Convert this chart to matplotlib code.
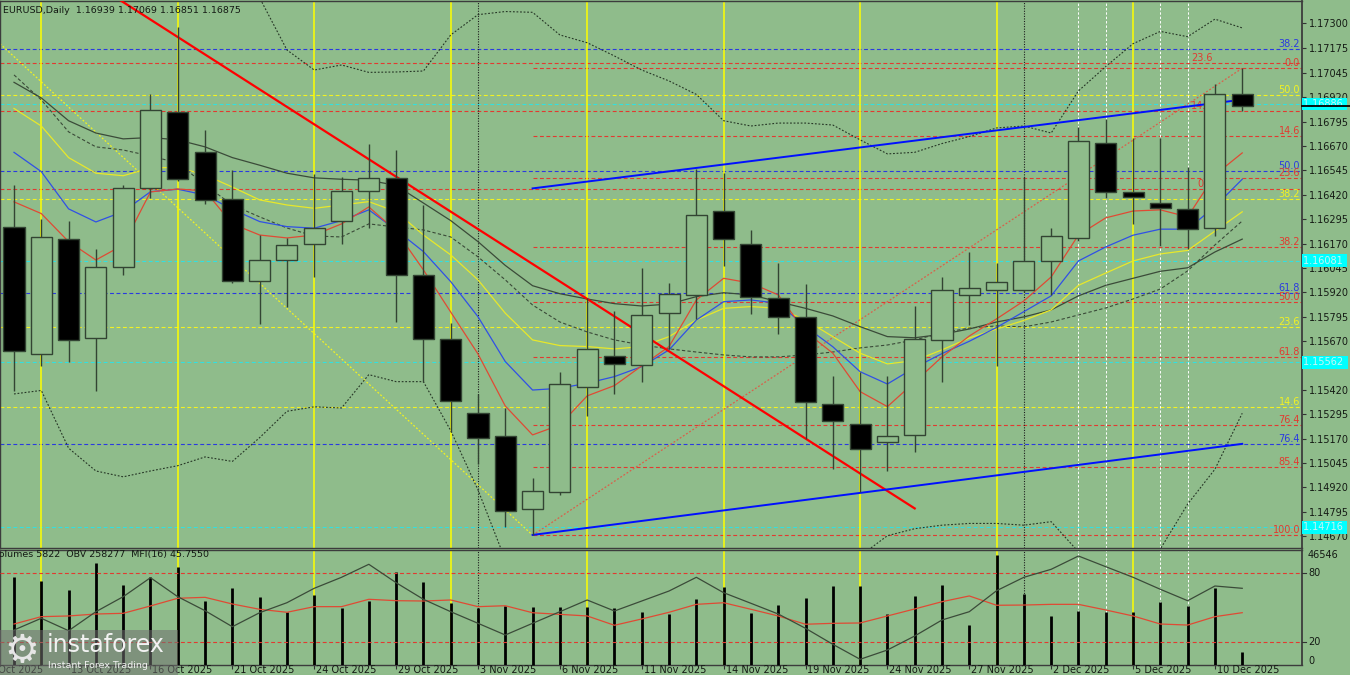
import numpy as np
import pandas as pd
import matplotlib
matplotlib.use('Agg')
import matplotlib.pyplot as plt
from matplotlib.patches import Rectangle
import matplotlib.transforms as mtransforms

plt.rcParams['font.family'] = ['DejaVu Sans']

# ---------------- data ----------------
dates = pd.to_datetime([
    '2025-10-09', '2025-10-10', '2025-10-13', '2025-10-14', '2025-10-15', '2025-10-16', '2025-10-17',
    '2025-10-20', '2025-10-21', '2025-10-22', '2025-10-23', '2025-10-24',
    '2025-10-27', '2025-10-28', '2025-10-29', '2025-10-30', '2025-10-31',
    '2025-11-03', '2025-11-04', '2025-11-05', '2025-11-06', '2025-11-07',
    '2025-11-10', '2025-11-11', '2025-11-12', '2025-11-13', '2025-11-14',
    '2025-11-17', '2025-11-18', '2025-11-19', '2025-11-20', '2025-11-21',
    '2025-11-24', '2025-11-25', '2025-11-26', '2025-11-27', '2025-11-28',
    '2025-12-01', '2025-12-02', '2025-12-03', '2025-12-04', '2025-12-05',
    '2025-12-08', '2025-12-09', '2025-12-10', '2025-12-11'])

opens = [1.16256, 1.15606, 1.16191, 1.15687, 1.16051, 1.16455, 1.16845, 1.16639, 1.16400, 1.15977,
         1.16087, 1.16166, 1.16285, 1.16441, 1.16507, 1.16010, 1.15682, 1.15301, 1.15184, 1.14807,
         1.14896, 1.15435, 1.15592, 1.15547, 1.15816, 1.15908, 1.16335, 1.16166, 1.15893, 1.15791,
         1.15349, 1.15247, 1.15152, 1.15189, 1.15678, 1.15906, 1.15934, 1.15934, 1.16082, 1.16198,
         1.16687, 1.16432, 1.16378, 1.16348, 1.16250, 1.16939]
highs = [1.16473, 1.16297, 1.16288, 1.16141, 1.16468, 1.16935, 1.17280, 1.16750, 1.16545, 1.16216,
         1.16198, 1.16525, 1.16513, 1.16683, 1.16651, 1.16367, 1.15764, 1.15400, 1.15328, 1.14969,
         1.15511, 1.15893, 1.15822, 1.16046, 1.15969, 1.16554, 1.16531, 1.16238, 1.16069, 1.15965,
         1.15489, 1.15513, 1.15493, 1.15848, 1.15997, 1.16127, 1.16069, 1.16513, 1.16249, 1.16769,
         1.16809, 1.16710, 1.16710, 1.16561, 1.16989, 1.17069]
lows = [1.15412, 1.15543, 1.15565, 1.15414, 1.16010, 1.16405, 1.16489, 1.16374, 1.15969, 1.15757,
        1.15845, 1.16001, 1.16168, 1.16249, 1.15768, 1.15462, 1.15202, 1.15041, 1.14717, 1.14675,
        1.14879, 1.15286, 1.15400, 1.15462, 1.15628, 1.15782, 1.16055, 1.15809, 1.15705, 1.15166,
        1.15013, 1.14896, 1.15005, 1.15103, 1.15459, 1.15753, 1.15543, 1.15922, 1.15906, 1.16184,
        1.16402, 1.16270, 1.16157, 1.16141, 1.16208, 1.16851]
closes = [1.15621, 1.16204, 1.15678, 1.16048, 1.16455, 1.16857, 1.16499, 1.16396, 1.15977, 1.16087,
          1.16165, 1.16251, 1.16441, 1.16506, 1.16010, 1.15682, 1.15364, 1.15175, 1.14798, 1.14901,
          1.15450, 1.15628, 1.15552, 1.15804, 1.15911, 1.16315, 1.16191, 1.15897, 1.15791, 1.15358,
          1.15261, 1.15117, 1.15184, 1.15682, 1.15933, 1.15942, 1.15974, 1.16082, 1.16208, 1.16696,
          1.16432, 1.16410, 1.16353, 1.16245, 1.16939, 1.16875]

ma_red = [1.16384, 1.16324, 1.16180, 1.16086, 1.16163, 1.16435, 1.16450, 1.16440, 1.16271, 1.16214,
          1.16199, 1.16214, 1.16271, 1.16358, 1.16235, 1.16035, 1.15819, 1.15604, 1.15337, 1.15189,
          1.15240, 1.15389, 1.15442, 1.15543, 1.15642, 1.15881, 1.15992, 1.15967, 1.15907, 1.15718,
          1.15608, 1.15411, 1.15334, 1.15460, 1.15589, 1.15696, 1.15784, 1.15876, 1.15999, 1.16214,
          1.16302, 1.16337, 1.16343, 1.16307, 1.16522, 1.16635]
ma_blue = [1.16638, 1.16539, 1.16348, 1.16281, 1.16334, 1.16436, 1.16449, 1.16419, 1.16346, 1.16283,
           1.16257, 1.16249, 1.16288, 1.16343, 1.16240, 1.16129, 1.15975, 1.15795, 1.15565, 1.15419,
           1.15428, 1.15454, 1.15488, 1.15539, 1.15625, 1.15778, 1.15872, 1.15881, 1.15864, 1.15744,
           1.15641, 1.15513, 1.15450, 1.15534, 1.15606, 1.15669, 1.15740, 1.15821, 1.15902, 1.16081,
           1.16153, 1.16213, 1.16244, 1.16244, 1.16360, 1.16500]
ma_yellow = [1.16863, 1.16773, 1.16611, 1.16531, 1.16518, 1.16558, 1.16561, 1.16522, 1.16460, 1.16394,
             1.16368, 1.16351, 1.16368, 1.16385, 1.16334, 1.16214, 1.16112, 1.15984, 1.15813, 1.15676,
             1.15647, 1.15642, 1.15630, 1.15642, 1.15693, 1.15778, 1.15838, 1.15847, 1.15838, 1.15778,
             1.15693, 1.15608, 1.15553, 1.15570, 1.15625, 1.15686, 1.15732, 1.15776, 1.15830, 1.15956,
             1.16019, 1.16081, 1.16117, 1.16135, 1.16234, 1.16333]
ma_gray = [1.16997, 1.16917, 1.16800, 1.16737, 1.16707, 1.16714, 1.16702, 1.16666, 1.16611, 1.16572,
           1.16531, 1.16507, 1.16500, 1.16495, 1.16468, 1.16378, 1.16288, 1.16180, 1.16058, 1.15954,
           1.15913, 1.15886, 1.15862, 1.15850, 1.15860, 1.15898, 1.15918, 1.15907, 1.15872, 1.15838,
           1.15799, 1.15744, 1.15693, 1.15687, 1.15705, 1.15732, 1.15768, 1.15794, 1.15830, 1.15902,
           1.15956, 1.15992, 1.16028, 1.16046, 1.16127, 1.16193]
bb_mid = [1.17035, 1.16907, 1.16743, 1.16666, 1.16650, 1.16619, 1.16584, 1.16471, 1.16368, 1.16307,
          1.16250, 1.16209, 1.16204, 1.16271, 1.16255, 1.16240, 1.16204, 1.16102, 1.15984, 1.15855,
          1.15768, 1.15717, 1.15676, 1.15650, 1.15630, 1.15614, 1.15599, 1.15589, 1.15589, 1.15599,
          1.15614, 1.15635, 1.15650, 1.15676, 1.15712, 1.15737, 1.15748, 1.15743, 1.15768, 1.15804,
          1.15840, 1.15886, 1.15937, 1.16030, 1.16163, 1.16286]
bb_up = [1.18671, 1.18394, 1.18363, 1.18327, 1.18327, 1.18235, 1.18137, 1.17866, 1.17684, 1.17430,
         1.17163, 1.17060, 1.17086, 1.17048, 1.17050, 1.17055, 1.17240, 1.17344, 1.17360, 1.17356,
         1.17240, 1.17200, 1.17132, 1.17060, 1.17004, 1.16935, 1.16800, 1.16773, 1.16788, 1.16788,
         1.16778, 1.16702, 1.16630, 1.16638, 1.16683, 1.16719, 1.16763, 1.16773, 1.16737, 1.16953,
         1.17078, 1.17195, 1.17258, 1.17231, 1.17321, 1.17276]
bb_lo = [1.15399, 1.15417, 1.15121, 1.15004, 1.14974, 1.15004, 1.15031, 1.15076, 1.15053, 1.15175,
         1.15310, 1.15333, 1.15327, 1.15498, 1.15462, 1.15462, 1.15211, 1.14907, 1.14548, 1.14353,
         1.14296, 1.14235, 1.14219, 1.14240, 1.14255, 1.14291, 1.14399, 1.14404, 1.14389, 1.14409,
         1.14450, 1.14568, 1.14672, 1.14708, 1.14726, 1.14735, 1.14735, 1.14726, 1.14744, 1.14589,
         1.14548, 1.14548, 1.14604, 1.14834, 1.15013, 1.15300]

volumes = [37136, 35701, 31777, 43297, 33887, 37389, 41609, 27135, 32747, 28949,
           22366, 29667, 24307, 27135, 39246, 35279, 26417, 24054, 25025, 24476,
           24729, 24729, 24307, 22493, 21775, 28105, 32916, 22071, 25573, 28527,
           33465, 33465, 21775, 29371, 34013, 17133, 46546, 30089, 20805, 22915,
           22619, 22493, 26713, 24898, 32747, 5822]
obv = [165286, 191377, 163725, 206095, 239545, 281915, 239545, 208325, 172645, 203865,
       226165, 258277, 282807, 311797, 270765, 233747, 206095, 180227, 154136, 180227,
       206095, 232186, 207656, 229956, 252256, 282807, 248465, 224827, 200966, 169077,
       133397, 99947, 120686, 151906, 187586, 206095, 252925, 282807, 300647, 330306,
       306445, 282807, 256047, 230625, 263406, 258277]
mfi = [35.9, 42.3, 42.9, 44.6, 45.2, 51.6, 58.3, 59.1, 53.3, 48.7,
       46.1, 51.0, 51.0, 57.4, 56.2, 55.9, 56.8, 51.0, 51.8, 45.7,
       44.3, 42.9, 34.8, 40.3, 46.1, 53.0, 54.4, 48.7, 42.9, 35.7,
       36.5, 36.8, 42.9, 49.0, 55.3, 60.3, 52.2, 52.4, 53.0, 53.0,
       48.1, 42.9, 35.9, 35.0, 42.3, 45.755]

price_ticks = [1.17300, 1.17175, 1.17045, 1.16920, 1.16795, 1.16670, 1.16545, 1.16420, 1.16295,
               1.16170, 1.16045, 1.15920, 1.15795, 1.15670, 1.15545, 1.15420, 1.15295, 1.15170,
               1.15045, 1.14920, 1.14795, 1.14670]
cyan_levels = [1.16886, 1.16081, 1.15562, 1.14716]

swing_top = 1.19191        # high above the visible window
blue_fib_low = 1.13891     # low below the visible window
red2_base = 1.16450
yellow_fib_levels = [14.6, 23.6, 38.2, 50.0]
blue_fib_levels = [38.2, 50.0, 61.8, 76.4]
red2_fib_levels = [0.0, 14.6, 23.6]
red_fib_levels = [0.0, 14.6, 23.6, 38.2, 50.0, 61.8, 76.4, 85.4, 100.0]

# trend lines: (bar position, price)
red_trend = [(3.88, 1.17419), (33.0, 1.14812)]
blue_upper = [(19.0, 1.16453), (45.0, 1.16908)]
blue_lower = [(19.0, 1.14676), (45.0, 1.15143)]
yellow_diag = [(-0.513, 1.17195), (19.0, 1.14675)]

friday_marks = ['2025-10-10', '2025-10-17', '2025-10-24', '2025-10-31', '2025-11-07',
                '2025-11-14', '2025-11-21', '2025-11-28', '2025-12-05']
month_marks = ['2025-11-03', '2025-12-01']
white_marks = ['2025-12-03', '2025-12-04', '2025-12-08', '2025-12-09']

header = 'EURUSD,Daily  1.16939 1.17069 1.16851 1.16875'
vol_header = 'Volumes 5822  OBV 258277  MFI(16) 45.7550'

# ---------------- figure ----------------
W, H = 1350, 675
BG = '#8fbc8b'
EDGE = '#334433'
TXT = '#141a14'
RED = '#e23a30'
BLUE = '#2a3ae0'
YEL = '#f2f222'
CYAN = '#33e0e0'

fig = plt.figure(figsize=(W / 100, H / 100), dpi=100)
fig.patch.set_facecolor(BG)

def fy(py):
    return 1 - py / H

AX_R = 1302
ax = fig.add_axes([0, fy(548), AX_R / W, (548 - 1) / H])
axv = fig.add_axes([0, fy(665.3), AX_R / W, (665.3 - 550) / H])
for a in (ax, axv):
    a.set_facecolor(BG)
    for s in a.spines.values():
        s.set_color('#3c3c3c')
        s.set_linewidth(1.0)
    a.spines['right'].set_linewidth(1.3)

n = len(closes)
xs = np.arange(n)
xl = (-0.513, 47.19)
ax.set_xlim(*xl)
axv.set_xlim(*xl)
ax.set_ylim(1.14609, 1.17414)

didx = {d.strftime('%Y-%m-%d'): i for i, d in enumerate(dates)}

# vertical separators
for d in friday_marks:
    for a in (ax, axv):
        a.axvline(didx[d], color='#ffff00', lw=1.1, zorder=1.3)
for d in month_marks:
    for a in (ax, axv):
        a.axvline(didx[d], color='#1e1e1e', lw=0.8, ls=(0, (1, 1.3)), zorder=1.3)
for d in white_marks:
    for a in (ax, axv):
        a.axvline(didx[d], color='#ffffff', lw=0.7, ls=(0, (2.5, 2)), zorder=1.3)

dash = (0, (3.5, 2.3))
trans_r = mtransforms.blended_transform_factory(ax.transAxes, ax.transData)
lab_x = 1300 / AX_R

# full-width fib levels
for lev in yellow_fib_levels:
    p = lows[19] + lev / 100 * (swing_top - lows[19])
    ax.axhline(p, color=YEL, lw=0.8, ls=dash, zorder=1)
    ax.text(lab_x, p, f'{lev:.1f}', transform=trans_r, ha='right', va='bottom',
            fontsize=7, color=YEL, zorder=1.5)
for lev in blue_fib_levels:
    p = swing_top - lev / 100 * (swing_top - blue_fib_low)
    ax.axhline(p, color=BLUE, lw=0.8, ls=dash, zorder=1)
    ax.text(lab_x, p, f'{lev:.1f}', transform=trans_r, ha='right', va='bottom',
            fontsize=7, color=BLUE, zorder=1.5)
for lev in red2_fib_levels:
    p = red2_base + lev / 100 * (swing_top - red2_base)
    ax.axhline(p, color=RED, lw=0.8, ls=dash, zorder=1)
    ax.text(43.92, p, f'{lev:.1f}', ha='right', va='bottom', fontsize=7, color=RED, zorder=1.5)
for p in cyan_levels:
    ax.axhline(p, color=CYAN, lw=0.8, ls=dash, zorder=1)

# fib of the last swing (low -> high), drawn from the low bar
fib_lo, fib_hi = lows[19], highs[45]
for lev in red_fib_levels:
    p = fib_hi - lev / 100 * (fib_hi - fib_lo)
    ax.plot([19, xl[1]], [p, p], color=RED, lw=0.8, ls=dash, zorder=1.1)
    ax.text(lab_x, p, f'{lev:.1f}', transform=trans_r, ha='right', va='bottom',
            fontsize=7, color=RED, zorder=1.5)

# diagonal dotted lines
ax.plot([p[0] for p in yellow_diag], [p[1] for p in yellow_diag], color=YEL, lw=0.9,
        ls=(0, (1.5, 1.5)), zorder=2)
ax.plot([19, 45], [fib_lo, fib_hi], color='#d9604a', lw=0.9, ls=(0, (1.5, 1.5)), zorder=2)

# indicators
ax.plot(xs, bb_up, color='#263626', lw=0.8, ls=(0, (1.6, 1.6)), zorder=2.5)
ax.plot(xs, bb_lo, color='#263626', lw=0.8, ls=(0, (1.6, 1.6)), zorder=2.5)
ax.plot(xs, bb_mid, color='#3a4a38', lw=0.8, ls=(0, (3, 2)), zorder=2.5)
ax.plot(xs, ma_gray, color='#3b4b39', lw=0.9, zorder=2.6)
ax.plot(xs, ma_yellow, color='#e8e82a', lw=0.9, zorder=2.7)
ax.plot(xs, ma_blue, color='#3050e6', lw=0.9, zorder=2.8)
ax.plot(xs, ma_red, color='#e04a34', lw=0.9, zorder=2.9)

# trend lines
ax.plot([p[0] for p in red_trend], [p[1] for p in red_trend], color='#ff0000', lw=1.6, zorder=3)
ax.plot([p[0] for p in blue_upper], [p[1] for p in blue_upper], color='#0010ff', lw=1.4, zorder=3)
ax.plot([p[0] for p in blue_lower], [p[1] for p in blue_lower], color='#0010ff', lw=1.4, zorder=3)

# candles (foreground)
bw = 0.77
for i in range(n):
    o, h, l, c = opens[i], highs[i], lows[i], closes[i]
    ax.plot([i, i], [l, h], color=EDGE, lw=1.0, zorder=6, solid_capstyle='butt')
    bot = min(o, c)
    ht = max(abs(c - o), 0.00003)
    fc = 'black' if c < o else BG
    ax.add_patch(Rectangle((i - bw / 2, bot), bw, ht, facecolor=fc, edgecolor=EDGE,
                           lw=1.0, zorder=7))

# right price axis
ax.yaxis.tick_right()
ax.set_yticks(price_ticks)
ax.set_yticklabels([f'{t:.5f}' for t in price_ticks])
ax.tick_params(axis='y', direction='out', length=3, width=0.8, colors='#333333',
               labelsize=7, labelcolor=TXT, pad=2)
ax.set_xticks([])
for p in cyan_levels:
    ax.text(1.0008, p, f'{p:.5f} ', transform=trans_r, ha='left', va='center', fontsize=7,
            color='#c8f4f4', clip_on=False, zorder=10,
            bbox=dict(boxstyle='square,pad=0.15', fc='#00ffff', ec='none'))
ax.plot([1.0, 1.04], [closes[-1], closes[-1]], transform=trans_r, color='black', lw=1.3,
        clip_on=False, zorder=10)

ax.text(3 / AX_R, 1 - 5 / 547, header, transform=ax.transAxes, ha='left', va='top',
        fontsize=6.8, color=TXT, zorder=12)

# ---------------- volume panel ----------------
axv.set_ylim(0, 46546 * (665.3 - 550) / (665.3 - 555))
axv.vlines(xs, 0, volumes, color='black', lw=2.0, zorder=5)
axm = axv.twinx()
axm.set_ylim(0, 100 * (665.3 - 550) / (665.3 - 550.3))
axo = axv.twinx()
axo.set_ylim(86567, 86567 + (665.3 - 550) * 2230)
for a in (axm, axo):
    a.set_xlim(*xl)
    a.axis('off')
axm.axhline(80, color=RED, lw=0.8, ls=dash, zorder=1)
axm.axhline(20, color=RED, lw=0.8, ls=dash, zorder=1)
axm.plot(xs, mfi, color='#e04a34', lw=0.9, zorder=6)
axo.plot(xs, obv, color='#3b4b39', lw=0.9, zorder=6)

axv.set_yticks([])
lab_ticks = list(range(2, n, 3))
axv.set_xticks(lab_ticks)
axv.set_xticklabels([])
axv.tick_params(axis='x', direction='out', length=3, width=0.8, colors='#333333')
transv = mtransforms.blended_transform_factory(axv.transData, fig.transFigure)
prev_day = dates[0] - pd.offsets.BDay(1)
for i, d in [(-1, prev_day)] + [(i, dates[i]) for i in lab_ticks]:
    axv.text(i + 0.07, fy(664.8), f'{d.day} {d.strftime("%b %Y")}', transform=transv,
             ha='left', va='top', fontsize=7, color=TXT, clip_on=False)

for val, py in [('46546', 554.7), ('80', 573.3), ('20', 642.3), ('0', 661.0)]:
    fig.text(1308 / W, fy(py), val, ha='left', va='center', fontsize=7, color=TXT)
for py in [573.3, 642.3]:
    fig.add_artist(plt.Line2D([AX_R / W, (AX_R + 4) / W], [fy(py), fy(py)],
                              color='#333333', lw=0.8))

fig.text(-7 / W, fy(555), vol_header, ha='left', va='center', fontsize=6.8, color=TXT)

# ---------------- logo ----------------
fig.add_artist(Rectangle((0, 0), 178 / W, 45 / H, transform=fig.transFigure,
                         facecolor='#707070', alpha=0.55, edgecolor='none', zorder=20))
fig.text(22 / W, fy(651), '\u2699', ha='center', va='center', fontsize=28,
         color='#e6e6e6', zorder=21)
fig.text(47 / W, fy(645), 'instaforex', ha='left', va='center', fontsize=17,
         color='#f2f2f2', zorder=21)
fig.text(48 / W, fy(666), 'Instant Forex Trading', ha='left', va='center', fontsize=6.8,
         color='#f2f2f2', zorder=21)

fig.savefig('out.png', dpi=100, facecolor=BG)
